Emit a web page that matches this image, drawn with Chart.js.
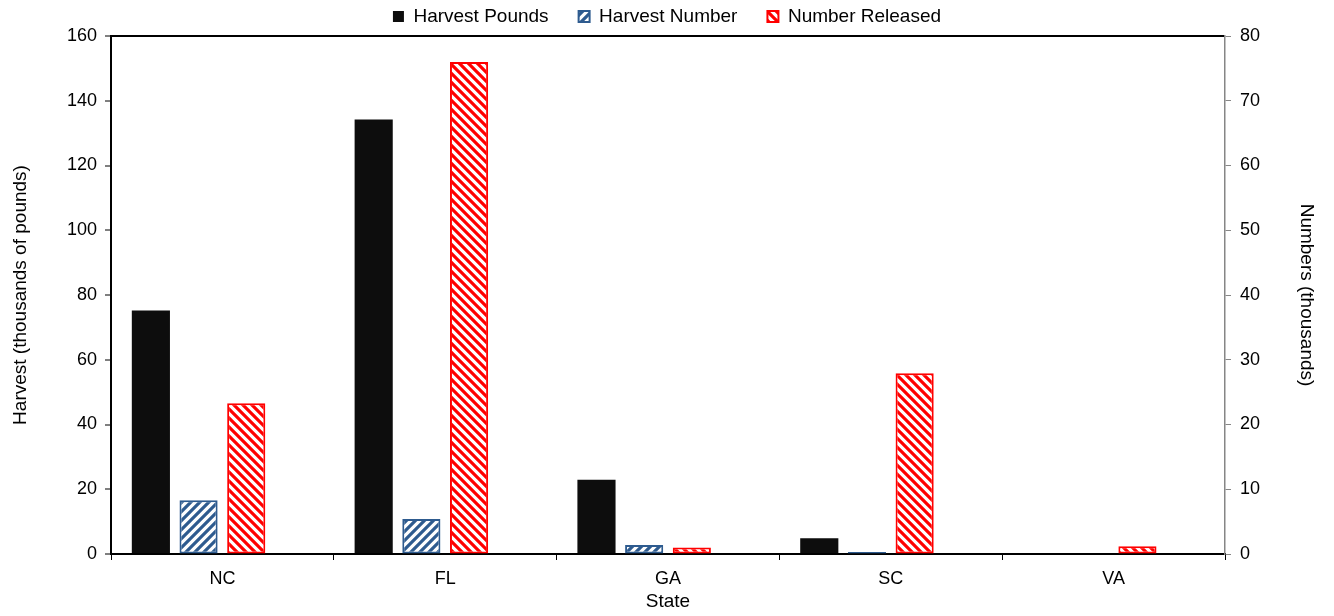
<!DOCTYPE html>
<html>
<head>
<meta charset="utf-8">
<script src="https://cdn.jsdelivr.net/npm/chart.js@4"></script>
<style>
  body { margin: 0; background: #fff; }
  canvas { display: block; }
</style>
</head>
<body>
<canvas id="chart" width="1334" height="616"></canvas>
<script>
// values
var states = ["NC", "FL", "GA", "SC", "VA"];
var harvestPounds = [75.2, 134.2, 22.9, 4.9, 0]; // thousands of pounds (left axis)
var harvestNumber = [8.3, 5.4, 1.4, 0.3, 0]; // thousands (right axis)
var numberReleased = [23.3, 76.0, 1.0, 27.9, 1.2]; // thousands (right axis)
var emptySlot = [null, null, null, null, null];

var blue = "#2E5B8F";
var red = "#FF0000";

function hatch(color, dir) {
  var s = 9;
  var c = document.createElement("canvas");
  c.width = s;
  c.height = s;
  var g = c.getContext("2d");
  g.fillStyle = "#fff";
  g.fillRect(0, 0, s, s);
  g.strokeStyle = color;
  g.lineWidth = 3.2;
  g.beginPath();
  if (dir == "/") {
    g.moveTo(-s / 2, s / 2); g.lineTo(s / 2, -s / 2);
    g.moveTo(0, s); g.lineTo(s, 0);
    g.moveTo(s / 2, s * 1.5); g.lineTo(s * 1.5, s / 2);
  } else {
    g.moveTo(s / 2, -s / 2); g.lineTo(s * 1.5, s / 2);
    g.moveTo(0, 0); g.lineTo(s, s);
    g.moveTo(-s / 2, s / 2); g.lineTo(s / 2, s * 1.5);
  }
  g.stroke();
  return g.createPattern(c, "repeat");
}

Chart.defaults.font.family = "'Liberation Sans', Arial, sans-serif";
Chart.defaults.color = "#000";

new Chart("chart", {
  type: "bar",
  data: {
    labels: states,
    datasets: [
      {
        label: "Harvest Pounds",
        data: harvestPounds,
        yAxisID: "y",
        backgroundColor: "#0d0d0d",
        borderColor: "#0d0d0d",
        borderWidth: 0,
      },
      {
        label: "Harvest Number",
        data: harvestNumber,
        yAxisID: "y2",
        backgroundColor: hatch(blue, "/"),
        borderColor: blue,
        borderWidth: 2,
        borderSkipped: false,
      },
      {
        label: "Number Released",
        data: numberReleased,
        yAxisID: "y2",
        backgroundColor: hatch(red, "\\"),
        borderColor: red,
        borderWidth: 2,
        borderSkipped: false,
      },
      {
        label: "",
        data: emptySlot,
        yAxisID: "y",
      },
    ],
  },
  options: {
    responsive: false,
    animation: false,
    categoryPercentage: 0.856,
    barPercentage: 0.8,
    layout: { padding: { top: -23, left: 0, right: 0, bottom: 0 } },
    plugins: {
      tooltip: { enabled: false },
      legend: {
        position: "top",
        labels: {
          font: { size: 19 },
          boxWidth: 11,
          boxHeight: 11,
          padding: 30,
          filter: (item) => item.text !== "",
        },
      },
    },
    scales: {
      x: {
        offset: true,
        grid: {
          display: true,
          drawOnChartArea: false,
          offset: true,
          color: "#000",
          tickLength: 6,
          tickWidth: 1,
        },
        border: { display: true, color: "#000", width: 2 },
        ticks: { font: { size: 18 }, padding: 8 },
        title: {
          display: true,
          text: "State",
          font: { size: 19 },
          padding: { top: 0, bottom: 3 },
        },
        afterFit: (scale) => {
          scale.height = 62;
        },
      },
      y: {
        position: "left",
        min: 0,
        max: 160,
        grid: {
          drawOnChartArea: true,
          color: (ctx) => (ctx.tick && ctx.tick.value === 160 ? "#000" : "rgba(0,0,0,0)"),
          lineWidth: 2,
          tickColor: "#000",
          tickLength: 6,
          tickWidth: 1,
        },
        border: { display: true, color: "#000", width: 2 },
        ticks: { stepSize: 20, font: { size: 18 }, padding: 8 },
        title: {
          display: true,
          text: "Harvest (thousands of pounds)",
          font: { size: 19 },
          padding: { top: 9, bottom: 0 },
        },
        afterFit: (scale) => {
          scale.width = 111;
        },
      },
      y2: {
        position: "right",
        min: 0,
        max: 80,
        grid: {
          drawOnChartArea: false,
          color: "#868686",
          tickLength: 6,
          tickWidth: 1,
        },
        border: { display: true, color: "#868686", width: 1.5 },
        ticks: { stepSize: 10, font: { size: 18 }, padding: 9 },
        title: {
          display: true,
          text: "Numbers (thousands)",
          font: { size: 19 },
          padding: { top: 16, bottom: 0 },
        },
        afterFit: (scale) => {
          scale.width = 109;
        },
      },
    },
  },
});
</script>
</body>
</html>
